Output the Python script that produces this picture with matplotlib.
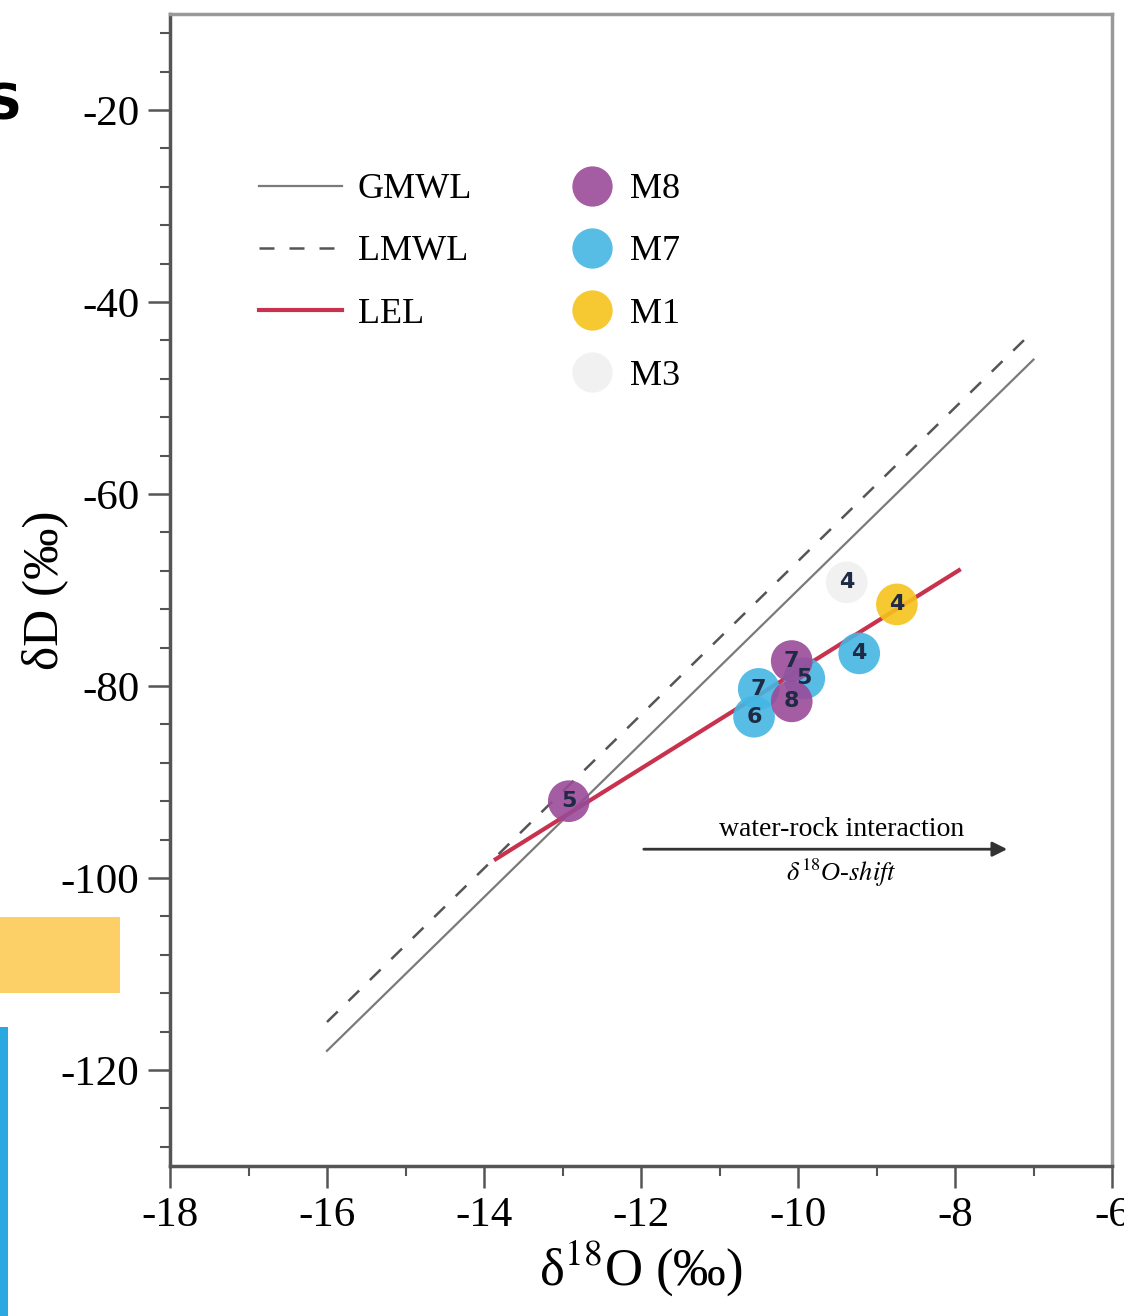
import numpy as np
import matplotlib.pyplot as plt
from matplotlib.lines import Line2D
from matplotlib.patches import Rectangle
from matplotlib.ticker import MultipleLocator

plt.rcParams['font.family'] = ['Liberation Serif', 'DejaVu Serif']
plt.rcParams['mathtext.fontset'] = 'stix'
plt.rcParams['axes.unicode_minus'] = False

# reference lines (x ranges, slope, intercept)
gmwl_x = [-16.0, -7.0]
gmwl_slope, gmwl_icpt = 8.0, 10.0
lmwl_x = [-16.0, -7.0]
lmwl_slope, lmwl_icpt = 8.0, 13.0
lel_x = [-13.85, -7.95]
lel_slope, lel_icpt = 5.1, -27.4

# samples
m8_x = [-12.92, -10.08, -10.08]
m8_y = [-92.0, -77.4, -81.6]
m8_lab = ['5', '7', '8']
m7_x = [-10.50, -10.56, -9.92, -9.22]
m7_y = [-80.3, -83.2, -79.2, -76.6]
m7_lab = ['7', '6', '5', '4']
m1_x = [-8.74]
m1_y = [-71.5]
m1_lab = ['4']
m3_x = [-9.38]
m3_y = [-69.2]
m3_lab = ['4']

c_m8 = '#9a4a98'
c_m7 = '#45b6e3'
c_m1 = '#f6c21c'
c_m3 = '#f0f0f0'

fig = plt.figure(figsize=(11.24, 13.16), dpi=100)
ax = fig.add_axes([170/1124, 1-1166/1316, 942/1124, 1152/1316])

def line(xs, a, b):
    xs = np.array(xs)
    return xs, a*xs + b

x, y = line(gmwl_x, gmwl_slope, gmwl_icpt)
h_g, = ax.plot(x, y, color='#7a7a7a', lw=1.6, zorder=2)
x, y = line(lmwl_x, lmwl_slope, lmwl_icpt)
h_l, = ax.plot(x, y, color='#555555', lw=1.8, ls=(0, (6, 6)), zorder=2)
x, y = line(lel_x, lel_slope, lel_icpt)
h_e, = ax.plot(x, y, color='#c8324e', lw=3, zorder=2)

ms = 900
groups = [(m7_x, m7_y, m7_lab, c_m7), (m8_x, m8_y, m8_lab, c_m8),
          (m1_x, m1_y, m1_lab, c_m1), (m3_x, m3_y, m3_lab, c_m3)]
for gx, gy, gl, col in groups:
    ax.scatter(gx, gy, s=ms, color=col, alpha=0.9, edgecolors='none', zorder=3)
    for xi, yi, t in zip(gx, gy, gl):
        ax.text(xi, yi, t, ha='center', va='center', fontsize=16,
                family='DejaVu Sans', fontweight='bold', color='#1f2a44', zorder=4)

# water-rock arrow
ax.annotate('', xy=(-7.3, -97.0), xytext=(-12.0, -97.0),
            arrowprops=dict(arrowstyle='-|>', color='#333333', lw=2, mutation_scale=22))
ax.text(-9.45, -94.9, 'water-rock interaction', ha='center', va='center', fontsize=20)
ax.text(-9.45, -99.5, r'$\delta^{18}$O-$shift$', ha='center', va='center',
        fontsize=19, style='italic')

# legends
leg1 = ax.legend([h_g, h_l, h_e], ['GMWL', 'LMWL', 'LEL'], loc='upper left',
                 bbox_to_anchor=(0.094, 0.862), frameon=False, fontsize=26,
                 handlelength=2.3, handletextpad=0.45, labelspacing=0.8,
                 borderpad=0, borderaxespad=0)
ax.add_artist(leg1)
mk = [Line2D([], [], ls='none', marker='o', markersize=29, color=c, alpha=0.9,
             markeredgewidth=0) for c in [c_m8, c_m7, c_m1, c_m3]]
ax.legend(mk, ['M8', 'M7', 'M1', 'M3'], loc='upper left',
          bbox_to_anchor=(0.425, 0.862), frameon=False, fontsize=26,
          handlelength=1.2, handletextpad=0.45, labelspacing=0.8,
          borderpad=0, borderaxespad=0)

ax.set_xlim(-18, -6)
ax.set_ylim(-130, -10)
ax.xaxis.set_major_locator(MultipleLocator(2))
ax.xaxis.set_minor_locator(MultipleLocator(1))
ax.yaxis.set_major_locator(MultipleLocator(20))
ax.yaxis.set_minor_locator(MultipleLocator(4))
ax.set_xticks([-18, -16, -14, -12, -10, -8, -6])
ax.set_yticks([-120, -100, -80, -60, -40, -20])
ax.tick_params(which='major', direction='out', length=16, width=1.8,
               color='#555555', labelsize=31, pad=6)
ax.tick_params(which='minor', direction='out', length=7, width=1.5, color='#555555')

for s in ['left', 'bottom']:
    ax.spines[s].set_linewidth(2.5)
    ax.spines[s].set_color('#555555')
for s in ['top', 'right']:
    ax.spines[s].set_linewidth(2.5)
    ax.spines[s].set_color('#999999')

ax.set_xlabel(r'δ$^{18}$O (‰)', fontsize=38, labelpad=2)
ax.set_ylabel('δD (‰)', fontsize=37)
ax.yaxis.set_label_coords(-0.108, 0.5)

# leftovers of the neighbouring panel
fig.add_artist(Rectangle((0, 1-993/1316), 120/1124, 76/1316,
                         transform=fig.transFigure, color='#fcd066', lw=0))
fig.add_artist(Rectangle((0, 0), 8/1124, 289/1316,
                         transform=fig.transFigure, color='#2aa8e0', lw=0))
fig.text(-0.013, 1-105/1316, 'S', fontsize=36, fontweight='bold',
         family='DejaVu Sans', va='center', ha='left')

fig.savefig('out.png', dpi=100)
